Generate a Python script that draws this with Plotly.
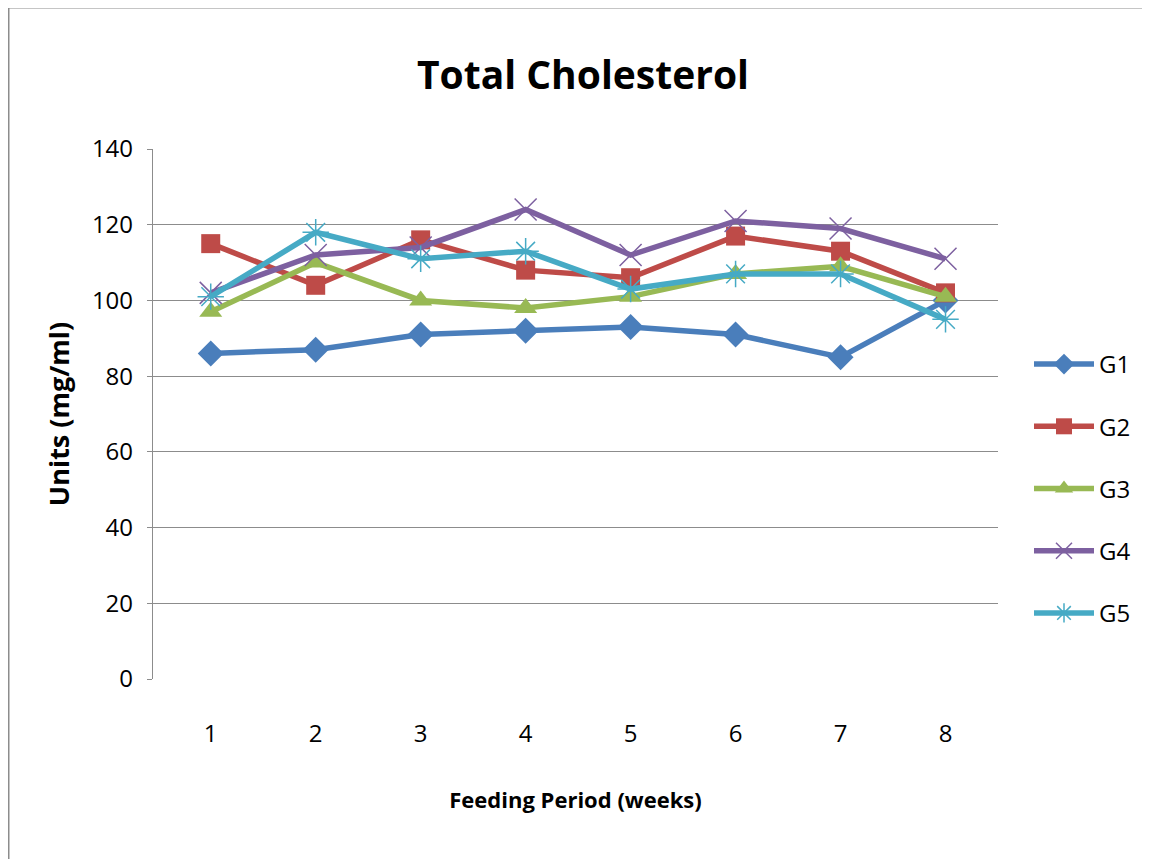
import plotly.graph_objects as go

weeks = ["1", "2", "3", "4", "5", "6", "7", "8"]
series_names = ["G1", "G2", "G3", "G4", "G5"]
g1 = [86, 87, 91, 92, 93, 91, 85, 100]
g2 = [115, 104, 116, 108, 106, 117, 113, 102]
g3 = [97, 110, 100, 98, 101, 107, 109, 101]
g4 = [102, 112, 114, 124, 112, 121, 119, 111]
g5 = [101, 118, 111, 113, 103, 107, 107, 95]
y_ticks = [0, 20, 40, 60, 80, 100, 120, 140]

values = [g1, g2, g3, g4, g5]
colors = ["#4A7EBB", "#BE4B48", "#98B954", "#7D60A0", "#46AAC5"]
symbols = ["diamond", "square", "triangle-up", "x-thin-open", "asterisk-open"]
msizes = [20, 19, 20, 22, 22]

FONT = "Open Sans, sans-serif"

fig = go.Figure()
for name, vals, c, s, ms in zip(series_names, values, colors, symbols, msizes):
    thin = s.endswith("open")
    fig.add_trace(go.Scatter(
        x=weeks, y=vals, name=name, mode="lines+markers",
        line=dict(color=c, width=5.5),
        marker=dict(symbol=s, size=ms, color=c,
                    line=dict(color=c, width=1.5 if thin else 0)),
        legendgroup=name,
    ))

# page body has an 8px margin; work in screen pixels and subtract it
OFF = 8
W, H = 1150, 859
L, T = 153 - OFF, 149 - OFF
pw, ph = 845, 530
R, B = W - L - pw, H - T - ph

def px(x):
    return (x - OFF - L) / pw

def py(y):
    return (T + ph - (y - OFF)) / ph

fig.add_shape(type="line", xref="paper", yref="paper",
              x0=px(8), x1=px(8), y0=py(6), y1=py(870),
              line=dict(color="#8C8C8C", width=3))
fig.add_shape(type="line", xref="paper", yref="paper",
              x0=px(6.5), x1=px(1170), y0=py(7), y1=py(7),
              line=dict(color="#8C8C8C", width=3))

fig.update_layout(
    width=W, height=H,
    margin=dict(l=L, r=R, t=T, b=B, autoexpand=False),
    paper_bgcolor="white", plot_bgcolor="white",
    font=dict(family=FONT, size=24, color="#000000"),
    title=dict(text="<b>Total Cholesterol</b>", x=0.5, xanchor="center",
               y=1 - (75 - OFF) / H, yanchor="middle",
               font=dict(size=39, family=FONT)),
    xaxis=dict(
        type="category", categoryorder="array", categoryarray=weeks,
        range=[-0.55, 7.5], showgrid=False, showline=False, zeroline=False,
        ticks="", tickfont=dict(size=24), ticklabelstandoff=38,
        title=dict(text="<b>Feeding Period (weeks)</b>", font=dict(size=22), standoff=44),
    ),
    yaxis=dict(
        range=[0, 140], tickvals=y_ticks, showgrid=True, gridcolor="#8C8C8C",
        gridwidth=1.3, showline=True, linecolor="#8C8C8C", linewidth=1.3,
        ticks="outside", ticklen=5, tickcolor="#8C8C8C", zeroline=False,
        tickfont=dict(size=24), ticklabelstandoff=9,
        title=dict(text="<b>Units (mg/ml)</b>", font=dict(size=27), standoff=14),
    ),
    legend=dict(x=px(1029), y=py(342), xanchor="left", yanchor="top",
                font=dict(size=24), tracegroupgap=28, itemwidth=60,
                bgcolor="rgba(0,0,0,0)"),
    showlegend=True,
)

fig.write_html("out.html")
